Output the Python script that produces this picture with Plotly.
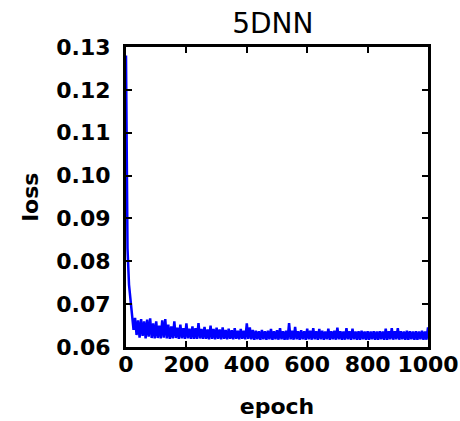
import plotly.graph_objects as go

epochs = list(range(0, 1001, 5))
loss = [
    0.128, 0.083, 0.0745, 0.0705, 0.0680, 0.0640, 0.0668, 0.0628, 0.0662, 0.0622, 0.0665, 0.0626, 0.0660, 0.0620, 0.0664, 0.0624, 0.0667, 0.0621, 0.0655, 0.0620, 0.0660,
    0.0621, 0.0650, 0.0620, 0.0662, 0.0622, 0.0665, 0.0620, 0.0652, 0.0619, 0.0648, 0.0620, 0.0660, 0.0621, 0.0645, 0.0619, 0.0652, 0.0620, 0.0644, 0.0619, 0.0655,
    0.0620, 0.0643, 0.0619, 0.0648, 0.0619, 0.0644, 0.0619, 0.0656, 0.0620, 0.0642, 0.0619, 0.0647, 0.0619, 0.0641, 0.0618, 0.0650, 0.0619, 0.0642, 0.0618, 0.0645,
    0.0619, 0.0641, 0.0618, 0.0646, 0.0619, 0.0640, 0.0618, 0.0643, 0.0619, 0.0639, 0.0618, 0.0644, 0.0619, 0.0638, 0.0618, 0.0642, 0.0619, 0.0638, 0.0618, 0.0655,
    0.0619, 0.0646, 0.0618, 0.0640, 0.0617, 0.0638, 0.0618, 0.0637, 0.0617, 0.0640, 0.0618, 0.0637, 0.0617, 0.0638, 0.0618, 0.0642, 0.0617, 0.0637, 0.0618, 0.0639,
    0.0617, 0.0644, 0.0618, 0.0637, 0.0617, 0.0638, 0.0617, 0.0656, 0.0618, 0.0638, 0.0617, 0.0647, 0.0618, 0.0637, 0.0617, 0.0639, 0.0618, 0.0637, 0.0617, 0.0643,
    0.0618, 0.0638, 0.0617, 0.0644, 0.0618, 0.0637, 0.0617, 0.0642, 0.0618, 0.0638, 0.0617, 0.0636, 0.0618, 0.0643, 0.0617, 0.0637, 0.0618, 0.0638, 0.0617, 0.0645,
    0.0618, 0.0637, 0.0617, 0.0636, 0.0617, 0.0644, 0.0618, 0.0637, 0.0617, 0.0643, 0.0618, 0.0636, 0.0617, 0.0637, 0.0617, 0.0638, 0.0618, 0.0636, 0.0617, 0.0637,
    0.0617, 0.0636, 0.0618, 0.0637, 0.0617, 0.0636, 0.0617, 0.0637, 0.0618, 0.0636, 0.0617, 0.0643, 0.0617, 0.0637, 0.0618, 0.0644, 0.0617, 0.0637, 0.0618, 0.0644,
    0.0617, 0.0637, 0.0618, 0.0636, 0.0617, 0.0638, 0.0617, 0.0637, 0.0618, 0.0636, 0.0617, 0.0637, 0.0617, 0.0636, 0.0618, 0.0638, 0.0617, 0.0636, 0.0617, 0.0646,
]

x_ticks = [0, 200, 400, 600, 800, 1000]
y_ticks = [0.06, 0.07, 0.08, 0.09, 0.10, 0.11, 0.12, 0.13]
y_tick_labels = ["0.06", "0.07", "0.08", "0.09", "0.10", "0.11", "0.12", "0.13"]

fig = go.Figure(go.Scatter(x=epochs, y=loss, mode="lines", hoverinfo="skip",
                           line=dict(color="#0000ff", width=2.5)))

tickfont = dict(family="DejaVu Sans", size=22, color="black", weight="bold")
titlefont = dict(family="DejaVu Sans", size=22, color="black", weight="bold")
fig.update_layout(
    width=460, height=421,
    margin=dict(l=126, r=32, t=47, b=74, autoexpand=False),
    paper_bgcolor="white", plot_bgcolor="white",
    showlegend=False,
    title=dict(text="5DNN", x=0.593, xanchor="center", y=0.946, yanchor="middle",
               font=dict(family="DejaVu Sans", size=28, color="black")),
)
fig.update_xaxes(range=[0, 1000], tickvals=x_ticks, tickangle=0, automargin=False,
                 showgrid=False, zeroline=False, showline=True, linecolor="black",
                 linewidth=3, mirror="ticks", ticks="inside", ticklen=6,
                 tickcolor="black", tickwidth=1.5, tickfont=tickfont,
                 ticklabelstandoff=-4,
                 title=dict(text="epoch", font=titlefont, standoff=23))
fig.update_yaxes(range=[0.06, 0.13], tickvals=y_ticks, ticktext=y_tick_labels, automargin=False,
                 showgrid=False, zeroline=False, showline=True, linecolor="black",
                 linewidth=3, mirror="ticks", ticks="inside", ticklen=6,
                 tickcolor="black", tickwidth=1.5, tickfont=tickfont,
                 ticklabelstandoff=8,
                 title=dict(text="loss", font=titlefont, standoff=12))

fig.write_html(
    "out.html",
    config={"displayModeBar": False},
    post_script="document.body.style.margin='0';document.body.style.overflow='hidden';"
                "document.documentElement.style.overflow='hidden';",
)
